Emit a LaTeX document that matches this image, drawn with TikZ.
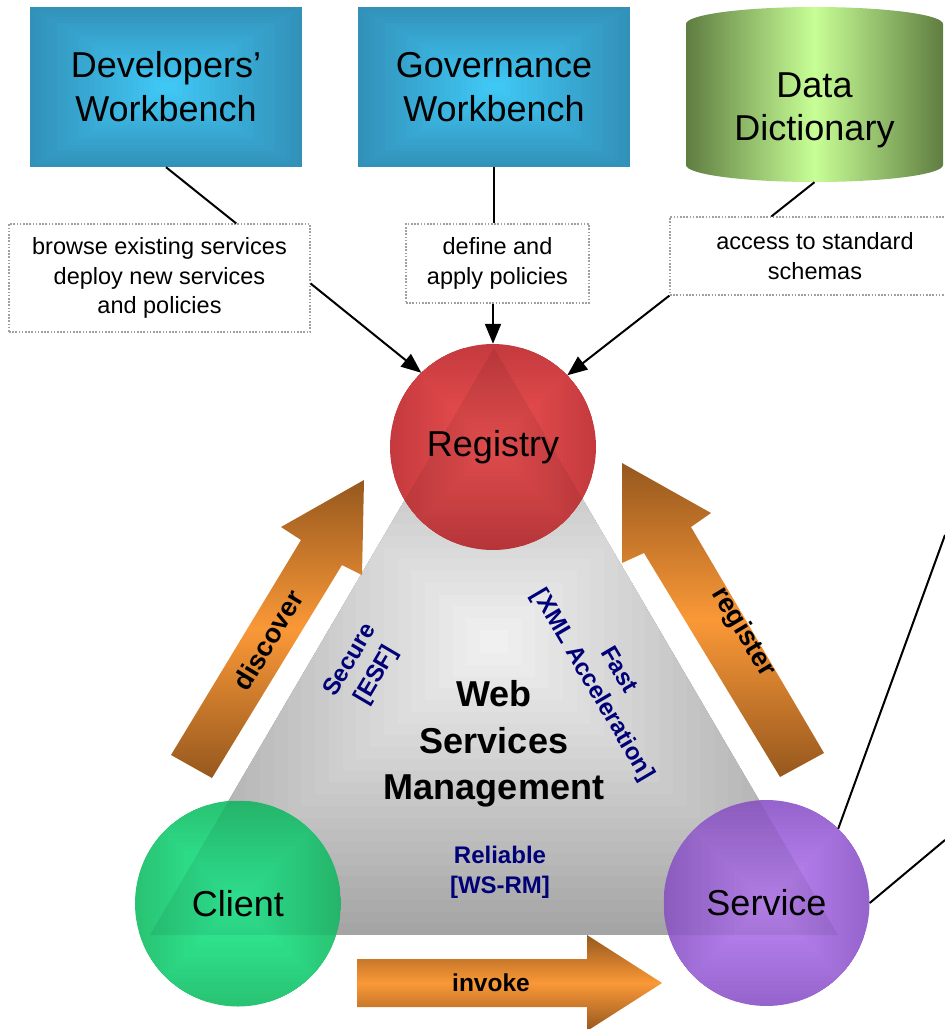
\documentclass[tikz,border=0pt]{standalone}
\usepackage{fontspec}
\setmainfont{Liberation Sans}
\usetikzlibrary{calc,arrows.meta}

\newcommand\sz[2]{\fontsize{#1}{#2}\selectfont}

\definecolor{boxedge}{RGB}{50,145,185}
\definecolor{boxmid}{RGB}{64,200,245}
\definecolor{regedge}{RGB}{196,58,62}
\definecolor{regmid}{RGB}{240,82,82}
\definecolor{cliedge}{RGB}{40,195,115}
\definecolor{climid}{RGB}{50,240,152}
\definecolor{srvedge}{RGB}{150,100,205}
\definecolor{srvmid}{RGB}{190,135,245}
\definecolor{triedge}{RGB}{165,165,165}
\definecolor{trimid}{RGB}{240,240,240}
\definecolor{cyledge}{RGB}{95,125,65}
\definecolor{cylmid}{RGB}{200,255,150}
\definecolor{arrdark}{RGB}{150,88,30}
\definecolor{arrlight}{RGB}{250,152,55}
\definecolor{navytext}{RGB}{0,0,120}
\definecolor{dotgray}{RGB}{160,160,160}

\tikzset{
  % nested rectangles shrinking towards the centre: a "rectangle" gradient
  rectgrad/.style 2 args={path picture={
    \foreach \k in {0,...,24}{
      \pgfmathsetmacro\gmix{100*\k/24}
      \fill[#2!\gmix!#1]
        ($(path picture bounding box.south west)!{\k/50}!(path picture bounding box.north east)$)
        rectangle
        ($(path picture bounding box.north east)!{\k/50}!(path picture bounding box.south west)$);
    }}},
  wbench/.style={rectangle, inner sep=0pt, minimum width=272pt, minimum height=160pt,
    rectgrad={boxedge}{boxmid}, align=center, font=\sz{36}{44}},
  hub/.style={circle, inner sep=0pt, minimum size=206pt, font=\sz{36}{44}},
  note/.style={rectangle, draw=dotgray, dash pattern=on 1.6pt off 1.6pt, line width=1.1pt,
    inner sep=0pt, align=center, font=\sz{23.5}{29.5}},
  conn/.style={line width=2pt, draw=black},
  tipped/.style={conn, -{Triangle[length=20pt,width=16pt]}},
  blockarrow/.style={top color=arrdark, bottom color=arrdark, middle color=arrlight},
  arrowtext/.style={font=\bfseries\sz{27}{32}},
  quality/.style={text=navytext, align=center, font=\bfseries\sz{24}{30}},
}

\begin{document}
\begin{tikzpicture}[x=1pt,y=-1pt]
\useasboundingbox (0,0) rectangle (945,1029);

% central management triangle
\path[rectgrad={triedge}{trimid}] (494,348) -- (838,935) -- (150,935) -- cycle;

% block arrows
\path[blockarrow] (364,480) -- (281,527) -- (301,540) -- (171,755) -- (212,778)
  -- (342,565) -- (362,575) -- cycle;
\path[blockarrow] (622,463) -- (622,563) -- (644,553) -- (780,777) -- (824,753)
  -- (691,527) -- (711,513) -- cycle;
\path[blockarrow] (357,959) -- (587,959) -- (587,935) -- (662,983) -- (587,1031)
  -- (587,1007) -- (357,1007) -- cycle;

% the three roles
\node[hub, rectgrad={regedge}{regmid}] (reg) at (493,447) {Registry};
\node[hub, rectgrad={cliedge}{climid}] (cli) at (238,903.5) {Client};
\node[hub, rectgrad={srvedge}{srvmid}] (srv) at (766.5,903) {Service};

% the triangle shows faintly through the circles
\begin{scope}
  \clip (reg.center) circle[radius=103pt] (cli.center) circle[radius=103pt]
        (srv.center) circle[radius=103pt];
  \fill[black, opacity=.07] (494,348) -- (838,935) -- (150,935) -- cycle;
\end{scope}

% workbenches
\node[wbench] (dw) at (166,87) {Developers’\\Workbench};
\node[wbench] (gw) at (494,87) {Governance\\Workbench};

% data dictionary cylinder
\node[minimum width=257pt, minimum height=175pt, inner sep=0pt] (dd) at (814.5,94.5) {};
\path[left color=cyledge, right color=cyledge, middle color=cylmid]
  (686,24) arc[start angle=180, end angle=0, x radius=128.5pt, y radius=17pt]
  -- (943,165) arc[start angle=0, end angle=-180, x radius=128.5pt, y radius=17pt] -- cycle;
\node[align=center, font=\sz{36}{43}] (ddt) at (814.5,110) {Data\\Dictionary};

% annotation boxes
\node[note, minimum width=301pt, minimum height=108pt] (bx) at (159.5,278)
  {browse existing services\\deploy new services\\and policies};
\node[note, minimum width=183pt, minimum height=79pt] (ap) at (497.5,263.5)
  {define and\\apply policies};
\node[note, minimum width=290pt, minimum height=78pt] (ac) at (815,256)
  {access to standard\\schemas};

% connectors
\draw[conn] (dw.south) -- ($(bx.north west)!.754!(bx.north east)$);
\draw[conn] (gw.south) -- (gw.south |- ap.north);
\draw[conn] (dd.south) -- ($(ac.north west)!.35!(ac.north east)$);
\draw[tipped] ($(bx.north east)!.55!(bx.south east)$) -- (reg.134);
\draw[tipped] (reg.north |- ap.south) -- (reg.north);
\draw[tipped] (ac.south west) -- (reg.44);

\coordinate (e1) at (945,535);
\coordinate (e2) at (945,840);
\draw[conn] (srv.46) -- (e1);
\draw[conn] (srv.east) -- (e2);

% labels
\node[align=center, font=\bfseries\sz{36}{46.5}] (wsm) at (494,744)
  {Web\\Services\\Management};
\node[quality, rotate=59.5] (sec) at (364,668) {Secure\\{[ESF]}};
\node[quality, rotate=-59.5] (fst) at (605,678) {Fast\\{[XML Acceleration]}};
\node[quality] (rel) at (500,872) {Reliable\\{[WS-RM]}};

\node[arrowtext, rotate=59] (dsc) at (268,640) {discover};
\node[arrowtext, rotate=-59] (rgs) at (743,632) {register};
\node[font=\bfseries\sz{24.5}{30}] (inv) at (491,983) {invoke};

\end{tikzpicture}
\end{document}
